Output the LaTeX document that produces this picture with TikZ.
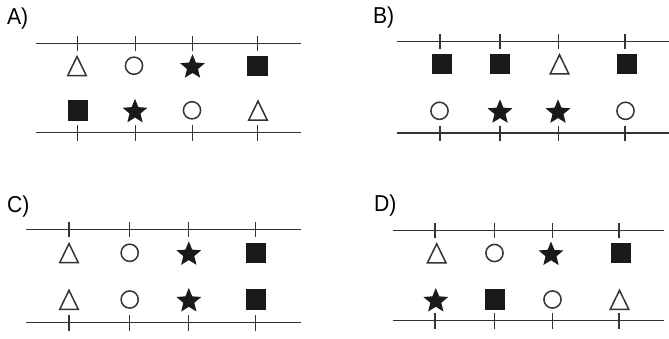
\documentclass[tikz,border=0pt]{standalone}
\usepackage{fontspec}
\setmainfont{Liberation Sans}
\usetikzlibrary{shapes.geometric}
\definecolor{ink}{HTML}{333333}
\definecolor{symfill}{HTML}{1A1A1A}
\tikzset{
  rail/.style={draw=ink, line width=1.5pt},
  outline/.style={draw=ink, line width=1.5pt},
  panellabel/.style={anchor=base west, inner sep=0pt, outer sep=0pt,
    font=\fontsize{23}{23}\selectfont},
  tri/.pic={\draw[outline, line join=miter] (0,-9.2) -- (9.3,9.9) -- (-9.3,9.9) -- cycle;},
  ring/.pic={\draw[outline] (0,0) circle[radius=8.6];},
  blackstar/.pic={\node[star, star points=5, star point ratio=2.25, minimum size=26pt,
    inner sep=0pt, outer sep=0pt, fill=symfill] at (0,1.5) {};},
  box/.pic={\fill[symfill] (-10.2,-10.2) rectangle (10.2,10.2);},
}
\begin{document}
\begin{tikzpicture}[x=1pt, y=-1pt]
\useasboundingbox (0,0) rectangle (669,338);

% ---- A ----
\node[panellabel] (labA) at (7,24.5) {\scalebox{0.92}[1]{A)}};
\draw[rail] (36,43.3) -- (301,43.3);
\draw[rail] (36,132.7) -- (301,132.7);
\foreach \x in {77.3,135.7,192.7,257.3} {
  \draw[rail] (\x,35.8) -- (\x,50.8);
  \draw[rail] (\x,125.2) -- (\x,140.7);
}
\pic at (77,65.7) {tri};
\pic at (134,65.7) {ring};
\pic at (192.5,65.7) {blackstar};
\pic at (257.5,65.7) {box};
\pic at (77.7,110.3) {box};
\pic at (135,110.3) {blackstar};
\pic at (192,110.3) {ring};
\pic at (258,110.3) {tri};

% ---- B ----
\node[panellabel] (labB) at (373,23) {\scalebox{0.92}[1]{B)}};
\draw[rail] (397,41.5) -- (669,41.5);
\draw[rail] (397,133) -- (669,133);
\foreach \x in {440,500,558.3,625} {
  \draw[rail] (\x,34) -- (\x,49);
  \draw[rail] (\x,125.5) -- (\x,141);
}
\pic at (441.7,64) {box};
\pic at (500,64) {box};
\pic at (559.5,64) {tri};
\pic at (627,64) {box};
\pic at (439.5,110.8) {ring};
\pic at (500,110.8) {blackstar};
\pic at (558,110.8) {blackstar};
\pic at (625.5,110.8) {ring};

% ---- C ----
\node[panellabel] (labC) at (7,212) {\scalebox{0.92}[1]{C)}};
\draw[rail] (26,229.3) -- (301,229.3);
\draw[rail] (26,322.7) -- (301,322.7);
\foreach \x in {69,129.3,188.3,255.7} {
  \draw[rail] (\x,221.8) -- (\x,236.8);
  \draw[rail] (\x,315.2) -- (\x,330.7);
}
\pic at (69,252.8) {tri};
\pic at (129.7,252.8) {ring};
\pic at (188.8,252.8) {blackstar};
\pic at (255.8,252.8) {box};
\pic at (69,299.5) {tri};
\pic at (129.7,299.5) {ring};
\pic at (188.8,299.5) {blackstar};
\pic at (256,299.5) {box};

% ---- D ----
\node[panellabel] (labD) at (374,211) {\scalebox{0.92}[1]{D)}};
\draw[rail] (393,230.7) -- (663.5,230.7);
\draw[rail] (393,320.7) -- (663.5,320.7);
\foreach \x in {435,494.3,552.7,619} {
  \draw[rail] (\x,223.2) -- (\x,238.2);
  \draw[rail] (\x,313.2) -- (\x,328.7);
}
\pic at (436.7,253) {tri};
\pic at (494.5,253) {ring};
\pic at (551,253) {blackstar};
\pic at (620.8,253) {box};
\pic at (435.8,299.5) {blackstar};
\pic at (494.8,299.5) {box};
\pic at (552.5,299.5) {ring};
\pic at (619.5,299.5) {tri};
\end{tikzpicture}
\end{document}
